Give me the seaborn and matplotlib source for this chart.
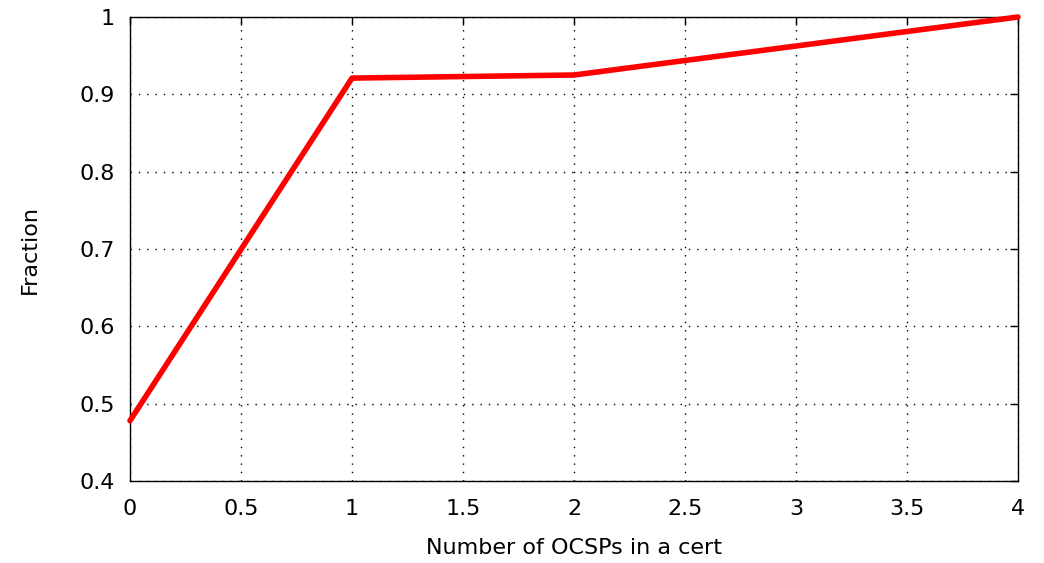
import matplotlib
matplotlib.use("Agg")
import matplotlib.pyplot as plt
import seaborn as sns
import pandas as pd

num_ocsps = [0, 1, 2, 3, 4]
fraction = [0.478, 0.921, 0.925, 0.9625, 1.0]
x_ticks = [0, 0.5, 1, 1.5, 2, 2.5, 3, 3.5, 4]
y_ticks = [0.4, 0.5, 0.6, 0.7, 0.8, 0.9, 1.0]
x_labels = ["0", "0.5", "1", "1.5", "2", "2.5", "3", "3.5", "4"]
y_labels = ["0.4", "0.5", "0.6", "0.7", "0.8", "0.9", "1"]

sns.set_style("white")
plt.rcParams['font.family'] = ['DejaVu Sans']

df = pd.DataFrame({"x": num_ocsps, "y": fraction})

fig = plt.figure(figsize=(10.44, 5.63), dpi=100)
ax = fig.add_axes([130/1044, 1-481/563, (1018-130)/1044, (481-17)/563])
sns.lineplot(data=df, x="x", y="y", ax=ax, color="#ff0000", linewidth=4, zorder=5, clip_on=False)

ax.set_xlim(0, 4)
ax.set_ylim(0.4, 1.0)
ax.set_xticks(x_ticks)
ax.set_xticklabels(x_labels)
ax.set_yticks(y_ticks)
ax.set_yticklabels(y_labels)
ax.grid(True, color="black", linestyle=(0, (1, 5)), linewidth=1)
ax.tick_params(direction="in", length=6, width=1, top=True, right=True,
               labelsize=16, colors="black")
ax.tick_params(axis="x", pad=13)
ax.tick_params(axis="y", pad=11)
for s in ax.spines.values():
    s.set_color("black")
    s.set_linewidth(1)
ax.set_xlabel("Number of OCSPs in a cert", fontsize=16, labelpad=14, color="black")
ax.set_ylabel("Fraction", fontsize=16, labelpad=28, color="black")

fig.savefig("out.png", dpi=100)
